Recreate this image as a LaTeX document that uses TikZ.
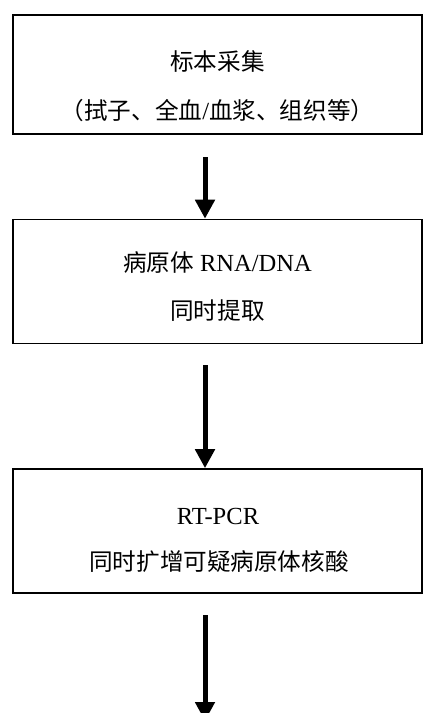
\documentclass[tikz,border=0pt]{standalone}
\usepackage{fontspec}
\setmainfont{Liberation Serif}[Scale=1.04]
\newfontfamily\cjk{Noto Sans CJK SC}
\usetikzlibrary{arrows.meta}
\tikzset{
  flowbox/.style={draw=black, line width=1.6pt, minimum width=409pt, inner sep=0pt},
  boxtext/.style={font=\fontsize{23.6}{28}\selectfont, inner sep=0pt, anchor=center},
  flowarrow/.style={line width=5pt, -{Triangle[width=19pt,length=19pt]}},
}
\begin{document}
\begin{tikzpicture}[x=1pt,y=-1pt]
\useasboundingbox (0,0) rectangle (424,713);
\fill[white] (0,0) rectangle (424,713);
% boxes
\node[flowbox, minimum height=119pt] (b1) at (217.5,74.5) {};
\node[flowbox, minimum height=124pt] (b2) at (217.5,281.5) {};
\node[flowbox, minimum height=124pt] (b3) at (217.5,531) {};
% texts
\node[boxtext] (t1a) at (217.5,61) {\cjk 标本采集};
\node[boxtext] (t1b) at (217.5,111) {{\cjk （拭子、全血}/{\cjk 血浆、组织等）}};
\node[boxtext] (t2a) at (217.5,263) {{\cjk 病原体} RNA/DNA};
\node[boxtext] (t2b) at (217.5,311) {\cjk 同时提取};
\node[boxtext] (t3a) at (218,516) {RT-PCR};
\node[boxtext] (t3b) at (219,562) {\cjk 同时扩增可疑病原体核酸};
% arrows
\coordinate (s1) at (205,157);
\coordinate (s2) at (205,365);
\coordinate (s3) at (205,615);
\coordinate (e3) at (205,721);
\draw[flowarrow] (s1) -- (s1 |- b2.north);
\draw[flowarrow] (s2) -- (s2 |- b3.north);
\draw[flowarrow] (s3) -- (e3);
\end{tikzpicture}
\end{document}
